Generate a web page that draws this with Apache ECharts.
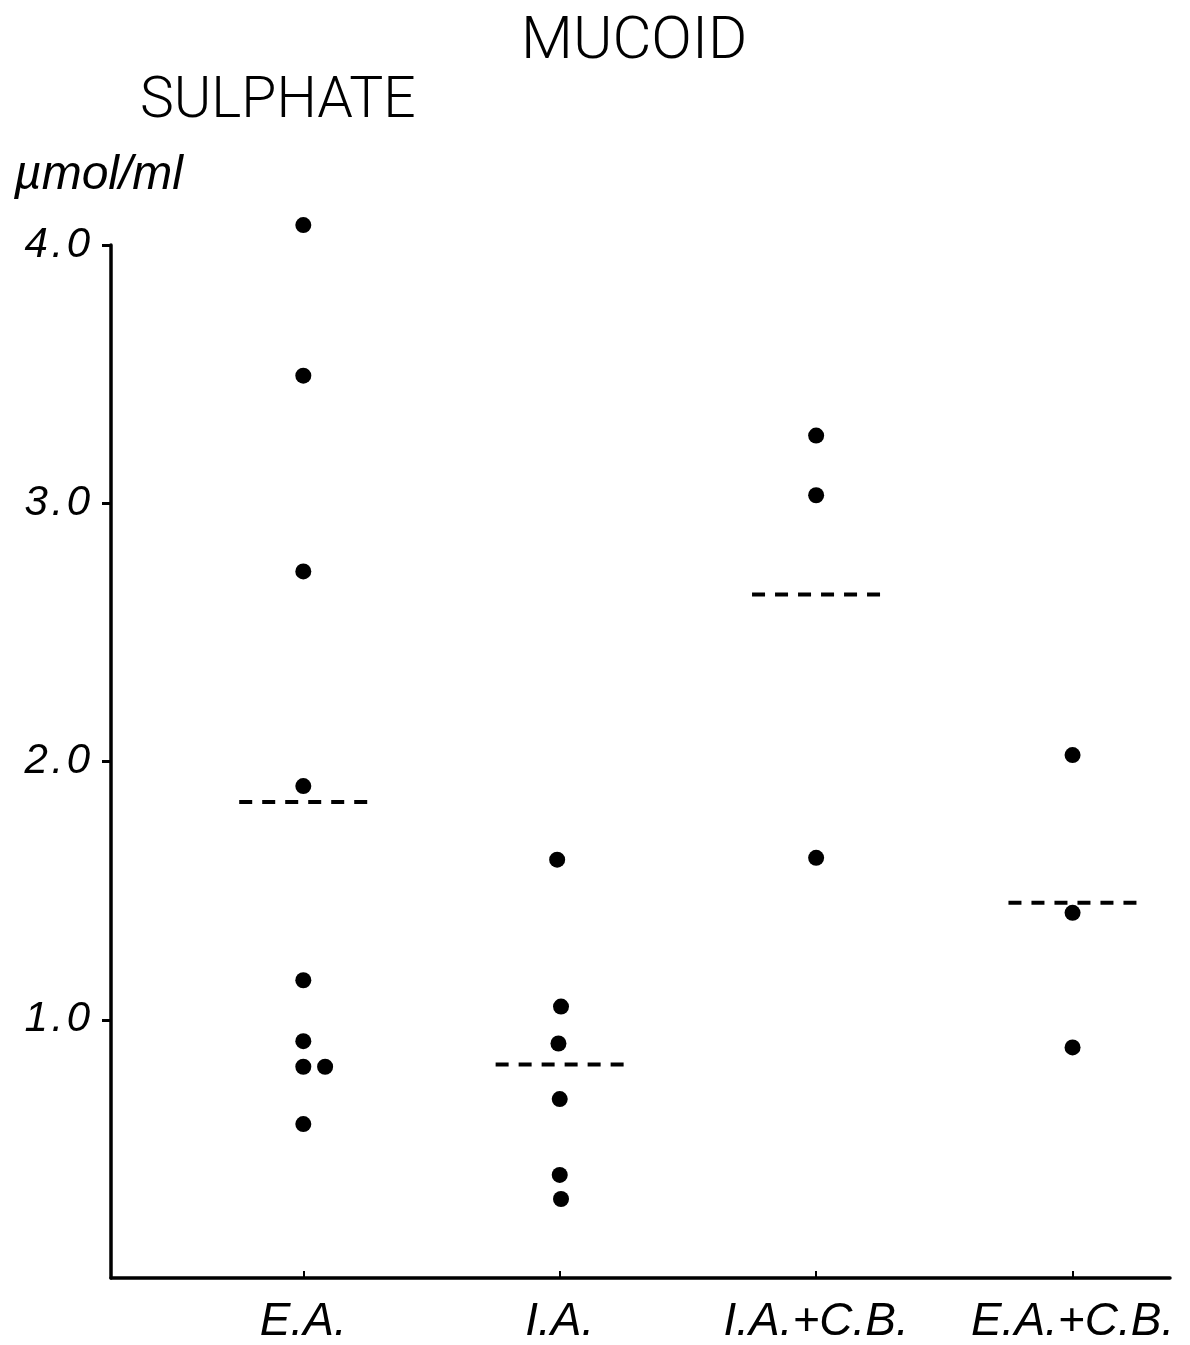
<!DOCTYPE html>
<html>
<head>
<meta charset="utf-8">
<title>Mucoid sulphate</title>
<script src="https://cdn.jsdelivr.net/npm/echarts@6/dist/echarts.min.js"></script>
<style>
  html, body { margin: 0; padding: 0; background: #fff; }
  #chart { width: 1190px; height: 1345px; }
</style>
</head>
<body>
<div id="chart"></div>
<script>
// Groups on the x axis (positions 1..4)
const categories = ['E.A.', 'I.A.', 'I.A.+C.B.', 'E.A.+C.B.'];

// Individual measurements, µmol/ml
const eaValues   = [4.077, 3.494, 2.736, 1.905, 1.153, 0.917, 0.818, 0.818, 0.596];
const iaValues   = [1.620, 1.051, 0.908, 0.693, 0.399, 0.306];
const iacbValues = [3.262, 3.031, 1.627];
const eacbValues = [2.025, 1.414, 0.893];

// Sideways shift (in group units) for coincident points
const eaShift   = [0, 0, 0, 0, 0, 0, 0, 0.085, 0];
const iaShift   = [-0.01, 0.005, -0.005, 0, 0, 0.005];
const iacbShift = [0, 0, 0];
const eacbShift = [0, 0, 0];

// Group means (dashed bars)
const groupMeans = [1.843, 0.827, 2.647, 1.453];

const yTicks = [1, 2, 3, 4];

const groups = [
  [eaValues, eaShift],
  [iaValues, iaShift],
  [iacbValues, iacbShift],
  [eacbValues, eacbShift]
];

const pointData = [];
groups.forEach(([vals, shift], gi) => {
  vals.forEach((v, i) => pointData.push([gi + 1 + shift[i], v]));
});

const FONT = 'Liberation Sans';
const TITLE_FONT = 'Roboto';
const INK = '#000';
const HALF = 0.25; // half width of a mean bar, in group units
const HS = '\u200A'; // hair space, opens up the tick numerals a little

const spaced = s => s.split('').join(HS);

const meanSeries = groupMeans.map((m, gi) => ({
  type: 'line',
  data: [[gi + 1 - HALF, m], [gi + 1 + HALF, m]],
  symbol: 'none',
  silent: true,
  lineStyle: { color: INK, width: 4, type: [13, 10], cap: 'butt' },
  z: 2
}));

const chart = echarts.init(document.getElementById('chart'), null, { renderer: 'canvas' });
chart.setOption({
  backgroundColor: '#fff',
  animation: false,
  title: [
    { text: 'MUCOID', left: 516, top: 8,
      textStyle: { fontFamily: TITLE_FONT, fontSize: 60, fontWeight: 300, color: INK } },
    { text: 'SULPHATE', left: 135, top: 69,
      textStyle: { fontFamily: TITLE_FONT, fontSize: 57, fontWeight: 300, color: INK } },
    { text: 'µmol/ml', left: 9, top: 147,
      textStyle: { fontFamily: FONT, fontSize: 48, fontStyle: 'italic', fontWeight: 'normal', color: INK } }
  ],
  grid: { left: 111, right: 20, top: 245, bottom: 65, containLabel: false },
  xAxis: {
    type: 'value',
    min: 0.25,
    max: 4.38,
    splitLine: { show: false },
    axisLine: { show: true, lineStyle: { color: INK, width: 3.5 } },
    axisTick: { show: true, inside: true, length: 7, customValues: [1, 2, 3, 4],
      lineStyle: { color: INK, width: 2 } },
    axisLabel: {
      customValues: [1, 2, 3, 4],
      margin: 21,
      formatter: v => categories[Math.round(v) - 1] || '',
      fontFamily: FONT, fontSize: 46, fontStyle: 'italic', color: INK
    }
  },
  yAxis: {
    type: 'value',
    min: 0,
    max: 4,
    interval: 1,
    splitLine: { show: false },
    axisLine: { show: true, lineStyle: { color: INK, width: 3.5 } },
    axisTick: { show: true, inside: false, length: 9, customValues: yTicks,
      lineStyle: { color: INK, width: 3 } },
    axisLabel: {
      customValues: yTicks,
      margin: 21,
      formatter: v => spaced(v.toFixed(1)),
      fontFamily: FONT, fontSize: 42, fontStyle: 'italic', color: INK
    }
  },
  series: [
    {
      type: 'scatter',
      data: pointData,
      symbol: 'circle',
      symbolSize: 16,
      clip: false,
      itemStyle: { color: INK, opacity: 1 },
      z: 3
    },
    ...meanSeries
  ]
});
</script>
</body>
</html>
